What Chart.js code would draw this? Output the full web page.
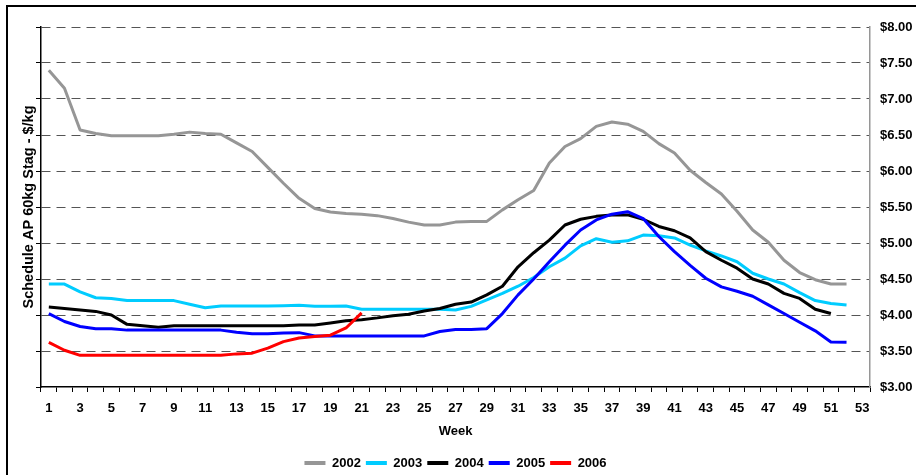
<!DOCTYPE html>
<html>
<head>
<meta charset="utf-8">
<script src="https://cdn.jsdelivr.net/npm/chart.js@4.4.0/dist/chart.umd.min.js"></script>
<style>
html,body{margin:0;padding:0;background:#fff;overflow:hidden;width:916px;height:475px;}
canvas{display:block;}
</style>
</head>
<body>
<canvas id="c" width="916" height="475"></canvas>
<script>
// ---- data ----
const weeks = ['1','2','3','4','5','6','7','8','9','10','11','12','13','14','15','16','17','18','19','20',
  '21','22','23','24','25','26','27','28','29','30','31','32','33','34','35','36','37','38','39','40',
  '41','42','43','44','45','46','47','48','49','50','51','52','53'];

const priceTicks = ['$3.00','$3.50','$4.00','$4.50','$5.00','$5.50','$6.00','$6.50','$7.00','$7.50','$8.00'];

const seriesNames = ['2002','2003','2004','2005','2006'];

const v2002 = [7.40,7.15,6.57,6.52,6.49,6.49,6.49,6.49,6.51,6.54,6.52,6.51,6.39,6.27,6.05,5.83,5.62,5.48,5.43,5.41,
  5.40,5.38,5.34,5.29,5.25,5.25,5.29,5.30,5.30,5.46,5.60,5.73,6.11,6.34,6.45,6.62,6.68,6.65,6.55,6.38,
  6.25,6.01,5.84,5.68,5.44,5.18,5.01,4.76,4.59,4.49,4.43,4.43];

const v2003 = [4.43,4.43,4.32,4.24,4.23,4.20,4.20,4.20,4.20,4.15,4.10,4.125,4.125,4.125,4.125,4.13,4.135,4.12,4.12,4.125,
  4.08,4.08,4.08,4.08,4.08,4.08,4.07,4.12,4.21,4.30,4.40,4.52,4.67,4.79,4.96,5.06,5.01,5.03,5.11,5.10,
  5.07,4.97,4.89,4.82,4.74,4.58,4.50,4.43,4.31,4.20,4.16,4.14];

const v2004 = [4.11,4.09,4.07,4.05,4.00,3.87,3.85,3.83,3.85,3.85,3.85,3.85,3.85,3.85,3.85,3.85,3.86,3.86,3.89,3.92,
  3.935,3.96,3.99,4.01,4.055,4.09,4.15,4.18,4.28,4.40,4.67,4.865,5.04,5.25,5.33,5.37,5.39,5.39,5.33,5.23,
  5.17,5.07,4.88,4.76,4.65,4.50,4.43,4.30,4.23,4.08,4.02];

const v2005 = [4.02,3.91,3.84,3.81,3.81,3.79,3.79,3.79,3.79,3.79,3.79,3.79,3.76,3.74,3.74,3.75,3.755,3.71,3.71,3.71,
  3.71,3.71,3.71,3.71,3.71,3.77,3.80,3.80,3.81,4.02,4.28,4.50,4.74,4.97,5.18,5.32,5.40,5.435,5.34,5.09,
  4.88,4.69,4.51,4.39,4.33,4.26,4.14,4.02,3.90,3.78,3.625,3.62];

const v2006 = [3.62,3.51,3.44,3.44,3.44,3.44,3.44,3.44,3.44,3.44,3.44,3.44,3.46,3.47,3.54,3.63,3.68,3.70,3.72,3.82,
  4.03];

const seriesValues = [v2002, v2003, v2004, v2005, v2006];
const seriesColors = ['#969696', '#00CCFF', '#000000', '#0000FF', '#FF0000'];

// ---- chart ----
const FONT = '"Liberation Sans", Arial, sans-serif';
Chart.defaults.font.family = FONT;
Chart.defaults.font.weight = 'bold';
Chart.defaults.font.size = 13;
Chart.defaults.color = '#000';

const framePlugin = {
  id: 'frame',
  beforeDraw(chart) {
    const c = chart.ctx;
    c.save();
    c.fillStyle = '#fff';
    c.fillRect(0, 0, chart.width, chart.height);
    c.fillStyle = '#000';
    c.fillRect(6, 5, chart.width - 6, 2);
    c.fillRect(6, 5, 2, chart.height - 5);
    c.restore();
  }
};

const datasets = seriesNames.map((name, i) => ({
  label: name,
  data: seriesValues[i],
  borderColor: seriesColors[i],
  backgroundColor: seriesColors[i],
  borderWidth: 3,
  pointRadius: 0,
  pointHoverRadius: 0,
  tension: 0,
  fill: false,
  borderJoinStyle: 'round',
  yAxisID: 'y',
  order: seriesNames.length - i
}));

new Chart(document.getElementById('c'), {
  type: 'line',
  data: { labels: weeks, datasets },
  options: {
    responsive: false,
    animation: false,
    events: [],
    layout: { padding: { top: 27, left: 8, right: 0, bottom: -4.5 } },
    plugins: {
      legend: {
        position: 'bottom',
        fullSize: false,
        labels: {
          boxWidth: 21,
          boxHeight: 4,
          padding: 5,
          color: '#000',
          font: { size: 13, weight: 'bold', family: FONT },
          sort: (a, b) => a.datasetIndex - b.datasetIndex,
          generateLabels: (chart) => chart.data.datasets.map((d, i) => ({
            text: d.label,
            fillStyle: d.borderColor,
            strokeStyle: d.borderColor,
            lineWidth: 0,
            hidden: false,
            datasetIndex: i
          }))
        }
      },
      tooltip: { enabled: false }
    },
    scales: {
      x: {
        type: 'category',
        offset: true,
        grid: { offset: true, drawOnChartArea: false, drawTicks: true, tickLength: 5, tickColor: '#000', color: '#000', lineWidth: 1 },
        border: { color: '#000', width: 1.5 },
        ticks: {
          autoSkip: false, maxRotation: 0, minRotation: 0, padding: 9,
          font: { size: 13, weight: 'bold' },
          callback: function (v, i) { return i % 2 === 0 ? this.getLabelForValue(v) : ''; }
        },
        title: { display: true, text: 'Week', font: { size: 13, weight: 'bold' }, padding: { top: 0, bottom: 12.7 } },
        afterFit: (s) => { s.height = 64.5; }
      },
      y2: {
        type: 'linear',
        position: 'left',
        min: 3, max: 8,
        ticks: { display: false, stepSize: 0.5 },
        grid: {
          color: (ctx) => (ctx.tick && ctx.tick.value === 3 ? 'rgba(0,0,0,0)' : '#555'),
          lineWidth: 1, drawTicks: true, tickLength: 5, tickColor: '#000', tickWidth: 1
        },
        border: { color: '#000', width: 1.5, dash: [9, 6] },
        title: { display: true, text: 'Schedule AP 60kg Stag - $/kg', font: { size: 14.5, weight: 'bold' }, padding: { top: 12.3, bottom: 0 } },
        afterFit: (s) => { s.width = 33; }
      },
      y: {
        type: 'linear',
        position: 'right',
        min: 3, max: 8,
        ticks: {
          stepSize: 0.5, padding: 10,
          font: { size: 13, weight: 'bold' },
          callback: (v) => priceTicks[Math.round((v - 3) / 0.5)]
        },
        grid: { display: false, drawTicks: false, tickLength: 0 },
        border: { color: '#969696', width: 1.5 },
        afterFit: (s) => { s.width = 46; }
      }
    }
  },
  plugins: [framePlugin]
});
</script>
</body>
</html>
